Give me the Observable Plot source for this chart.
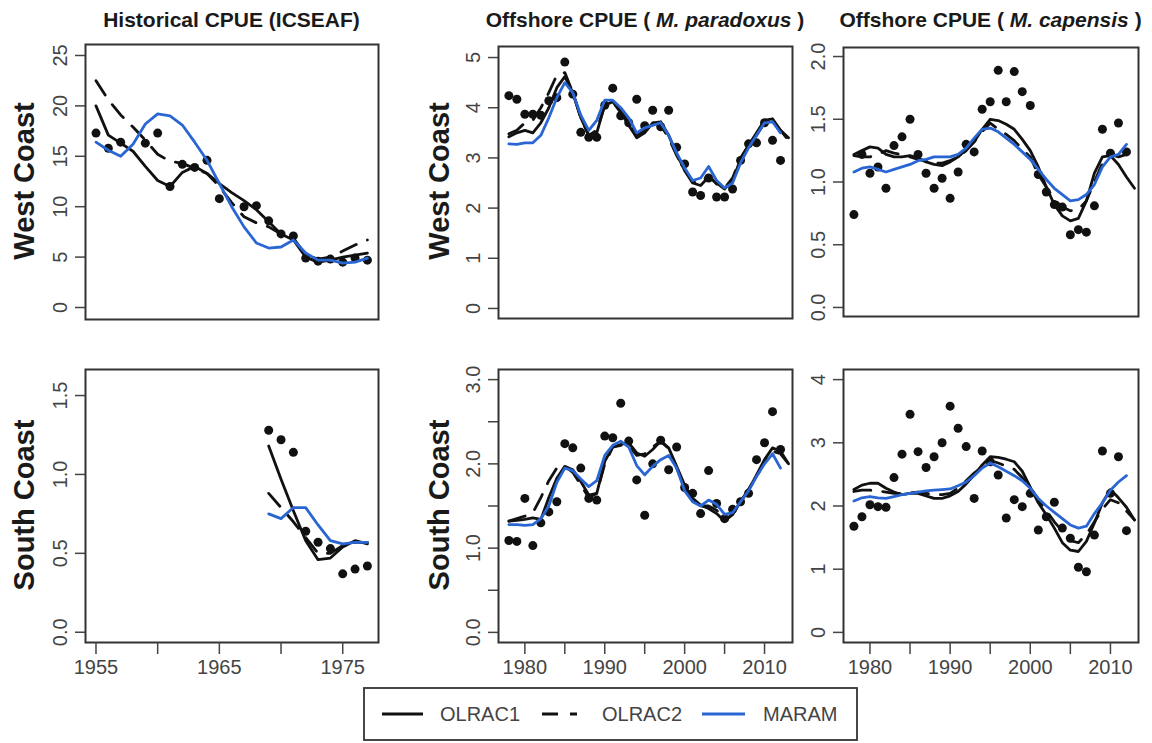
<!DOCTYPE html>
<html><head><meta charset="utf-8">
<script src="https://cdn.jsdelivr.net/npm/d3@7"></script>
<script src="https://cdn.jsdelivr.net/npm/@observablehq/plot@0.6"></script>
<style>
body{margin:0;background:#fff;font-family:"Liberation Sans",Arial,Helvetica,sans-serif;}
#root{position:relative;width:1152px;height:743px;overflow:hidden;background:#fff;}
.title{position:absolute;font-weight:bold;font-size:21px;color:#1a1a1a;white-space:nowrap;transform:translateX(-50%);line-height:21px;}
.row{position:absolute;font-weight:bold;font-size:29px;color:#1a1a1a;white-space:nowrap;line-height:29px;transform:translate(-50%,-50%) rotate(-90deg);}
.panel{position:absolute;}
</style></head><body><div id="root"></div>
<script>
// ---------- categories ----------
const histYears = [1955,1956,1957,1958,1959,1960,1961,1962,1963,1964,1965,1966,1967,1968,1969,1970,1971,1972,1973,1974,1975,1976,1977];
const histSouthYears = [1969,1970,1971,1972,1973,1974,1975,1976,1977];
const offYears = [1978,1979,1980,1981,1982,1983,1984,1985,1986,1987,1988,1989,1990,1991,1992,1993,1994,1995,1996,1997,1998,1999,2000,2001,2002,2003,2004,2005,2006,2007,2008,2009,2010,2011,2012];
const offLineYears = [1978,1979,1980,1981,1982,1983,1984,1985,1986,1987,1988,1989,1990,1991,1992,1993,1994,1995,1996,1997,1998,1999,2000,2001,2002,2003,2004,2005,2006,2007,2008,2009,2010,2011,2012,2013];
const seriesNames = ["OLRAC1","OLRAC2","MARAM"];
const panelTitles = ["Historical CPUE (ICSEAF)","Offshore CPUE ( <i>M. paradoxus</i> )","Offshore CPUE ( <i>M. capensis</i> )"];
const rowNames = ["West Coast","South Coast"];

// ---------- West Coast, historical ----------
const wcHistObs    = [17.3,15.8,16.4,null,16.3,17.3,12.0,14.2,13.9,14.6,10.8,null,10.0,10.1,8.6,7.3,7.1,4.9,4.6,4.8,4.5,4.9,4.7];
const wcHistOlrac1 = [20.0,17.1,16.3,15.5,14.0,12.6,12.0,13.4,14.0,13.3,12.3,11.4,10.6,9.7,8.5,7.3,6.7,5.0,4.5,4.7,5.0,5.2,5.4];
const wcHistOlrac2 = [22.5,20.6,19.1,17.9,16.6,15.2,14.5,14.3,13.8,13.3,12.0,10.4,9.0,8.4,8.0,7.3,6.9,5.2,4.8,5.0,5.6,6.2,6.7];
const wcHistMaram  = [16.4,15.6,15.0,16.2,18.2,19.2,19.0,18.1,16.4,14.6,12.3,10.0,8.0,6.4,5.9,6.0,6.7,5.4,4.7,4.7,4.4,4.5,4.9];

// ---------- South Coast, historical ----------
const scHistObs    = [1.28,1.22,1.14,0.64,0.57,0.53,0.37,0.40,0.42];
const scHistOlrac1 = [1.18,0.97,0.77,0.58,0.46,0.47,0.54,0.58,0.56];
const scHistOlrac2 = [0.88,0.79,0.70,0.60,0.50,0.50,0.55,0.57,0.57];
const scHistMaram  = [0.75,0.72,0.79,0.79,0.68,0.58,0.56,0.57,0.57];

// ---------- West Coast, M. paradoxus ----------
const wcParObs    = [4.24,4.17,3.87,3.87,3.85,4.14,4.20,4.91,4.27,3.51,3.41,3.41,4.05,4.39,3.84,3.70,4.17,3.64,3.95,3.62,3.95,3.21,2.88,2.32,2.25,2.60,2.22,2.22,2.38,2.95,3.28,3.30,3.70,3.35,2.95];
const wcParOlrac1 = [3.42,3.50,3.55,3.50,3.70,4.00,4.40,4.62,4.30,3.80,3.45,3.50,4.05,4.12,3.90,3.65,3.40,3.50,3.70,3.72,3.45,3.08,2.75,2.50,2.45,2.62,2.50,2.38,2.55,2.98,3.25,3.50,3.75,3.78,3.55,3.40];
const wcParOlrac2 = [3.48,3.55,3.70,3.75,4.00,4.30,4.65,4.70,4.30,3.80,3.45,3.55,4.05,4.10,3.95,3.70,3.45,3.55,3.70,3.65,3.40,3.05,2.75,2.52,2.50,2.65,2.48,2.40,2.60,3.00,3.25,3.45,3.70,3.75,3.55,3.35];
const wcParMaram  = [3.28,3.27,3.30,3.30,3.45,3.80,4.20,4.50,4.30,3.85,3.55,3.75,4.15,4.15,4.00,3.80,3.50,3.60,3.65,3.70,3.45,3.10,2.80,2.55,2.60,2.83,2.55,2.40,2.50,2.90,3.20,3.45,3.70,3.72,3.50];

// ---------- West Coast, M. capensis ----------
const wcCapObs    = [0.74,1.22,1.07,1.12,0.95,1.29,1.36,1.50,1.22,1.07,0.95,1.03,0.87,1.08,1.30,1.24,1.58,1.64,1.89,1.64,1.88,1.72,1.61,1.06,0.92,0.82,0.80,0.58,0.62,0.60,0.81,1.42,1.23,1.47,1.24];
const wcCapOlrac1 = [1.22,1.25,1.28,1.27,1.22,1.20,1.20,1.21,1.19,1.16,1.14,1.13,1.16,1.20,1.26,1.32,1.42,1.50,1.49,1.46,1.42,1.34,1.25,1.12,0.96,0.82,0.73,0.69,0.71,0.85,1.07,1.20,1.21,1.14,1.04,0.95];
const wcCapOlrac2 = [1.21,1.20,1.20,1.22,1.25,1.23,1.22,1.20,1.18,1.17,1.15,1.15,1.17,1.20,1.25,1.32,1.40,1.47,1.42,1.38,1.33,1.26,1.20,1.06,0.96,0.86,0.80,0.77,0.78,0.85,1.00,1.15,1.22,1.20,1.22,1.25];
const wcCapMaram  = [1.08,1.11,1.12,1.10,1.08,1.10,1.12,1.14,1.17,1.18,1.20,1.20,1.20,1.22,1.27,1.35,1.42,1.43,1.40,1.35,1.30,1.24,1.18,1.10,1.02,0.95,0.90,0.85,0.86,0.90,0.98,1.12,1.20,1.22,1.30];

// ---------- South Coast, M. paradoxus ----------
const scParObs    = [1.09,1.08,1.59,1.03,1.30,1.43,1.55,2.24,2.19,1.95,1.59,1.57,2.33,2.31,2.72,2.27,1.81,1.39,2.00,2.28,1.93,2.20,1.72,1.65,1.41,1.92,1.53,1.35,1.46,1.55,1.65,2.05,2.25,2.62,2.17];
const scParOlrac1 = [1.32,1.33,1.34,1.36,1.34,1.60,1.83,1.97,1.93,1.79,1.63,1.65,2.03,2.20,2.23,2.25,2.13,2.09,2.17,2.27,2.19,1.97,1.75,1.59,1.51,1.47,1.41,1.32,1.40,1.55,1.69,1.87,2.05,2.19,2.15,2.00];
const scParOlrac2 = [1.32,1.35,1.38,1.42,1.60,1.80,1.95,1.97,1.90,1.75,1.60,1.65,2.00,2.20,2.22,2.22,2.10,2.12,2.20,2.27,2.18,1.95,1.72,1.57,1.50,1.50,1.45,1.33,1.40,1.55,1.70,1.85,2.02,2.15,2.12,2.00];
const scParMaram  = [1.28,1.28,1.27,1.28,1.35,1.50,1.78,1.95,1.92,1.82,1.73,1.80,2.10,2.22,2.27,2.20,1.98,1.87,1.97,2.05,2.10,1.95,1.68,1.55,1.50,1.57,1.52,1.40,1.42,1.55,1.68,1.85,2.00,2.12,1.95];

// ---------- South Coast, M. capensis ----------
const scCapObs    = [1.68,1.83,2.02,1.99,1.98,2.45,2.82,3.45,2.86,2.61,2.78,3.00,3.58,3.23,2.94,2.12,2.87,2.70,2.49,1.81,2.10,1.99,2.20,1.62,1.83,2.06,1.65,1.49,1.03,0.96,1.54,2.87,2.20,2.78,1.61];
const scCapOlrac1 = [2.26,2.33,2.36,2.36,2.28,2.22,2.18,2.20,2.20,2.16,2.12,2.12,2.16,2.23,2.35,2.49,2.65,2.78,2.77,2.74,2.70,2.55,2.30,2.05,1.86,1.65,1.42,1.30,1.28,1.44,1.73,2.05,2.26,2.13,1.98,1.78];
const scCapOlrac2 = [2.23,2.25,2.25,2.24,2.22,2.20,2.20,2.21,2.22,2.20,2.18,2.18,2.20,2.28,2.40,2.52,2.62,2.72,2.68,2.63,2.58,2.45,2.30,2.10,1.93,1.75,1.60,1.45,1.42,1.55,1.75,1.95,2.10,2.05,1.92,1.78];
const scCapMaram  = [2.08,2.13,2.15,2.13,2.12,2.15,2.18,2.20,2.22,2.24,2.25,2.26,2.27,2.32,2.38,2.48,2.60,2.68,2.62,2.55,2.48,2.40,2.28,2.12,2.00,1.90,1.80,1.70,1.65,1.68,1.88,2.05,2.25,2.38,2.48];

// ---------- tick values ----------
const histXTicks = [1955,1960,1965,1970,1975];
const histXLabels = [1955,1965,1975];
const offXTicks = [1980,1985,1990,1995,2000,2005,2010];
const offXLabels = [1980,1990,2000,2010];
const yTicksWcHist = [0,5,10,15,20,25];
const yTicksScHist = [0,0.5,1,1.5];
const yTicksWcPar = [0,1,2,3,4,5];
const yTicksWcCap = [0,0.5,1,1.5,2];
const yTicksScPar = [0,0.5,1,1.5,2,2.5,3];
const yLabelsScPar = [0,1,2,3];
const yTicksScCap = [0,1,2,3,4];

// ---------- styles ----------
const BLACK = "#111";
const BLUE = "#2a66d3";
const GREY = "#444";
const LW = 2.8;
const DASH = "17,12";

const root = document.getElementById("root");
const pts = (xs, ys) => xs.map((x, i) => ({x, y: ys[i]})).filter(d => d.y != null);
const f1 = d3.format(".1f");
const f0 = d => String(d);

function panel(o) {
  const [x0, y0, x1, y1] = o.frame;
  const mL = 80, mR = 6, mT = 6, mB = 48;
  const marks = [
    Plot.dot(pts(o.obsYears, o.obs), {x: "x", y: "y", r: 4.5, fill: BLACK}),
    Plot.line(pts(o.lineYears1, o.l1), {x: "x", y: "y", stroke: BLACK, strokeWidth: LW}),
    Plot.line(pts(o.lineYears1, o.l2), {x: "x", y: "y", stroke: BLACK, strokeWidth: LW, strokeDasharray: DASH}),
    Plot.line(pts(o.lineYears2, o.l3), {x: "x", y: "y", stroke: BLUE, strokeWidth: LW}),
    Plot.axisY(o.yTicks, {anchor: "left", tickSize: 10, tickFormat: () => "", label: null, stroke: GREY, strokeWidth: 1.5}),
    Plot.text(o.yLabels, {y: d => d, text: d => o.yFmt(d), frameAnchor: "left", dx: -25, rotate: -90,
      textAnchor: "middle", lineAnchor: "middle", fontSize: 20, fill: GREY}),
    Plot.frame({stroke: "#333", strokeWidth: 2})
  ];
  if (o.xTicks) {
    marks.push(Plot.axisX(o.xTicks, {anchor: "bottom", tickSize: 12, tickFormat: () => "", label: null, stroke: GREY, strokeWidth: 1.5}));
    marks.push(Plot.text(o.xLabels, {x: d => d, text: d => String(d), frameAnchor: "bottom", dy: 25,
      lineAnchor: "middle", fontSize: 20, fill: GREY}));
  }
  const chart = Plot.plot({
    width: (x1 - x0) + mL + mR,
    height: (y1 - y0) + mT + mB,
    marginLeft: mL, marginRight: mR, marginTop: mT, marginBottom: mB,
    x: {domain: o.xDomain, ...(o.xTicks ? {} : {axis: null})},
    y: {domain: o.yDomain},
    style: {background: "transparent", overflow: "visible", fontFamily: "Liberation Sans, Arial, sans-serif"},
    marks
  });
  const wrap = document.createElement("div");
  wrap.className = "panel";
  wrap.style.left = (x0 - mL) + "px";
  wrap.style.top = (y0 - mT) + "px";
  wrap.appendChild(chart);
  root.appendChild(wrap);
}

const histDomain = [1954.15, 1977.9];
const offDomain = [1976.7, 2013.5];

panel({frame: [85, 44, 378, 319], xDomain: histDomain, yDomain: [-1.19, 26.09],
  obsYears: histYears, obs: wcHistObs, lineYears1: histYears, lineYears2: histYears,
  l1: wcHistOlrac1, l2: wcHistOlrac2, l3: wcHistMaram,
  yTicks: yTicksWcHist, yLabels: yTicksWcHist, yFmt: f0});
panel({frame: [498, 46, 792, 318], xDomain: offDomain, yDomain: [-0.2, 5.22],
  obsYears: offYears, obs: wcParObs, lineYears1: offLineYears, lineYears2: offYears,
  l1: wcParOlrac1, l2: wcParOlrac2, l3: wcParMaram,
  yTicks: yTicksWcPar, yLabels: yTicksWcPar, yFmt: f0});
panel({frame: [843, 47, 1138, 316], xDomain: offDomain, yDomain: [-0.072, 2.072],
  obsYears: offYears, obs: wcCapObs, lineYears1: offLineYears, lineYears2: offYears,
  l1: wcCapOlrac1, l2: wcCapOlrac2, l3: wcCapMaram,
  yTicks: yTicksWcCap, yLabels: yTicksWcCap, yFmt: f1});
panel({frame: [85, 369, 378, 642], xDomain: histDomain, yDomain: [-0.065, 1.665],
  obsYears: histSouthYears, obs: scHistObs, lineYears1: histSouthYears, lineYears2: histSouthYears,
  l1: scHistOlrac1, l2: scHistOlrac2, l3: scHistMaram,
  yTicks: yTicksScHist, yLabels: yTicksScHist, yFmt: f1,
  xTicks: histXTicks, xLabels: histXLabels});
panel({frame: [498, 369, 792, 642], xDomain: offDomain, yDomain: [-0.12, 3.12],
  obsYears: offYears, obs: scParObs, lineYears1: offLineYears, lineYears2: offYears,
  l1: scParOlrac1, l2: scParOlrac2, l3: scParMaram,
  yTicks: yTicksScPar, yLabels: yLabelsScPar, yFmt: f1,
  xTicks: offXTicks, xLabels: offXLabels});
panel({frame: [843, 369, 1138, 642], xDomain: offDomain, yDomain: [-0.16, 4.16],
  obsYears: offYears, obs: scCapObs, lineYears1: offLineYears, lineYears2: offYears,
  l1: scCapOlrac1, l2: scCapOlrac2, l3: scCapMaram,
  yTicks: yTicksScCap, yLabels: yTicksScCap, yFmt: f0,
  xTicks: offXTicks, xLabels: offXLabels});

// titles
const titleCenters = [231.5, 645, 990.5];
panelTitles.forEach((t, i) => {
  const d = document.createElement("div");
  d.className = "title";
  d.innerHTML = t;
  d.style.left = titleCenters[i] + "px";
  d.style.top = "9px";
  root.appendChild(d);
});
// row labels
const rowPos = [[24, 181, 0], [24, 505, 1], [439, 181, 0], [439, 505, 1]];
rowPos.forEach(([x, y, r]) => {
  const d = document.createElement("div");
  d.className = "row";
  d.textContent = rowNames[r];
  d.style.left = x + "px";
  d.style.top = y + "px";
  root.appendChild(d);
});

// legend
const svg = d3.select(root).append("svg")
  .attr("width", 1152).attr("height", 743)
  .style("position", "absolute").style("left", "0px").style("top", "0px")
  .style("pointer-events", "none");
svg.append("rect").attr("x", 364).attr("y", 688).attr("width", 493).attr("height", 52)
  .attr("fill", "none").attr("stroke", "#333").attr("stroke-width", 1.8);
const legendItems = [
  {name: seriesNames[0], x1: 382, x2: 423, tx: 440, stroke: BLACK, dash: null},
  {name: seriesNames[1], x1: 542, x2: 577, tx: 602, stroke: BLACK, dash: "16,12"},
  {name: seriesNames[2], x1: 702, x2: 745, tx: 763, stroke: BLUE, dash: null}
];
legendItems.forEach(it => {
  svg.append("line").attr("x1", it.x1).attr("x2", it.x2).attr("y1", 714).attr("y2", 714)
    .attr("stroke", it.stroke).attr("stroke-width", 3).attr("stroke-dasharray", it.dash);
  svg.append("text").attr("x", it.tx).attr("y", 721).text(it.name)
    .attr("font-size", 20).attr("fill", GREY).attr("font-family", "Liberation Sans, Arial, sans-serif");
});
</script></body></html>
